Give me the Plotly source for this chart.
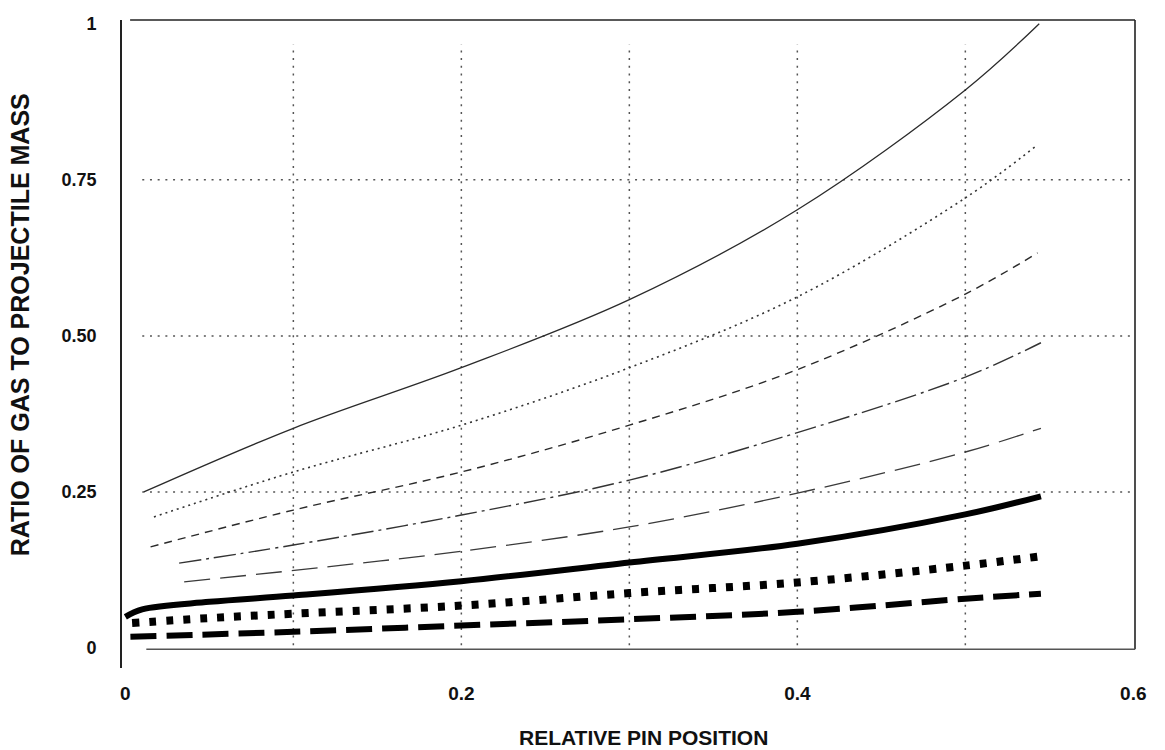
import plotly.graph_objects as go

# ---- data ----
xA = [0.011, 0.1, 0.2, 0.3, 0.4, 0.5, 0.544]
yA = [0.25, 0.352, 0.449, 0.558, 0.702, 0.894, 1.0]

xB = [0.017, 0.1, 0.2, 0.3, 0.4, 0.5, 0.543]
yB = [0.21, 0.282, 0.357, 0.449, 0.5625, 0.721, 0.806]

xC = [0.015, 0.1, 0.2, 0.3, 0.4, 0.5, 0.543]
yC = [0.162, 0.221, 0.282, 0.357, 0.446, 0.567, 0.633]

xD = [0.032, 0.1, 0.2, 0.3, 0.4, 0.5, 0.545]
yD = [0.136, 0.165, 0.213, 0.269, 0.345, 0.434, 0.489]

xE = [0.035, 0.12, 0.2, 0.3, 0.4, 0.5, 0.545]
yE = [0.106, 0.13, 0.155, 0.194, 0.248, 0.314, 0.352]

xF = [0.0, 0.01, 0.05, 0.1, 0.2, 0.3, 0.4, 0.5, 0.545]
yF = [0.05, 0.062, 0.074, 0.084, 0.107, 0.137, 0.167, 0.214, 0.243]

xG = [0.004, 0.05, 0.1, 0.2, 0.3, 0.4, 0.5, 0.545]
yG = [0.04, 0.048, 0.055, 0.068, 0.088, 0.105, 0.132, 0.147]

xH = [0.003, 0.1, 0.2, 0.3, 0.4, 0.5, 0.545]
yH = [0.018, 0.026, 0.036, 0.046, 0.058, 0.079, 0.087]

x_tickvals = [0, 0.2, 0.4, 0.6]
x_ticktext = ["0", "0.2", "0.4", "0.6"]
y_tickvals = [0, 0.25, 0.5, 0.75, 1.0]
y_ticktext = ["0", "0.25", "0.50", "0.75", "1"]
x_grid = [0.1, 0.2, 0.3, 0.4, 0.5]
y_grid = [0.25, 0.5, 0.75]

x_title = "RELATIVE PIN POSITION"
y_title = "RATIO OF GAS TO PROJECTILE MASS"

# ---- styles ----
series = [
    (xA, yA, dict(color="#2a2a2a", width=1.3, dash="solid")),
    (xB, yB, dict(color="#333333", width=1.6, dash="2px,4px")),
    (xC, yC, dict(color="#2a2a2a", width=1.4, dash="8px,6px")),
    (xD, yD, dict(color="#333333", width=1.4, dash="22px,5px,3px,5px")),
    (xE, yE, dict(color="#3a3a3a", width=1.3, dash="26px,10px")),
    (xF, yF, dict(color="#000000", width=6, dash="solid")),
    (xG, yG, dict(color="#000000", width=8, dash="7px,10px")),
    (xH, yH, dict(color="#000000", width=6, dash="26px,10px")),
]

fig = go.Figure()
for xs, ys, ln in series:
    fig.add_trace(go.Scatter(x=xs, y=ys, mode="lines",
                             line=dict(shape="spline", smoothing=1.0, **ln),
                             showlegend=False, hoverinfo="skip"))

shapes = []
grid_style = dict(color="#555555", width=1.5, dash="2px,5.7px")
for gx in x_grid:
    shapes.append(dict(type="line", xref="x", yref="paper", x0=gx, x1=gx,
                       y0=0.035, y1=0.962, line=grid_style, layer="below"))
for gy in y_grid:
    shapes.append(dict(type="line", xref="paper", yref="y", x0=0.02, x1=0.995,
                       y0=gy, y1=gy, line=grid_style, layer="below"))
# frame
frame = dict(color="#222222", width=1.6)
shapes.append(dict(type="line", xref="paper", yref="paper", x0=0.008, x1=1.0,
                   y0=1.0, y1=1.0, line=frame))
shapes.append(dict(type="line", xref="paper", yref="paper", x0=1.0, x1=1.0,
                   y0=0.029, y1=1.0, line=frame))
shapes.append(dict(type="line", xref="paper", yref="paper", x0=0.024, x1=1.0,
                   y0=0.029, y1=0.029, line=dict(color="#555555", width=1.5)))

font_family = "Liberation Sans, Arial, sans-serif"

fig.update_layout(
    width=1165, height=750,
    margin=dict(l=122, r=30, t=20, b=82),
    paper_bgcolor="white", plot_bgcolor="white",
    shapes=shapes,
    font=dict(family=font_family, color="#111111"),
    xaxis=dict(range=[-0.002, 0.601], tickvals=x_tickvals,
               ticktext=["<b>%s</b>" % t for t in x_ticktext],
               showgrid=False, zeroline=False, showline=False,
               ticks="outside", ticklen=0, ticklabelstandoff=8,
               tickfont=dict(size=19, family=font_family, color="#111111")),
    yaxis=dict(range=[-0.032, 1.006], tickvals=y_tickvals,
               ticktext=["<b>%s</b>" % t for t in y_ticktext],
               showgrid=False, zeroline=False, showline=True,
               linecolor="#222222", linewidth=1.6,
               ticks="outside", ticklen=0, ticklabelstandoff=20,
               tickfont=dict(size=18, family=font_family, color="#111111")),
    annotations=[
        dict(text="<b>%s</b>" % x_title, xref="paper", yref="paper",
             x=0.515, y=-0.108, xanchor="center", yanchor="middle",
             showarrow=False, font=dict(size=21, family=font_family, color="#111111")),
        dict(text="<b>%s</b>" % y_title, xref="paper", yref="paper",
             x=-0.101, y=0.53, xanchor="center", yanchor="middle", textangle=-90,
             showarrow=False, font=dict(size=25, family=font_family, color="#111111")),
    ],
)

fig.write_html("out.html")
